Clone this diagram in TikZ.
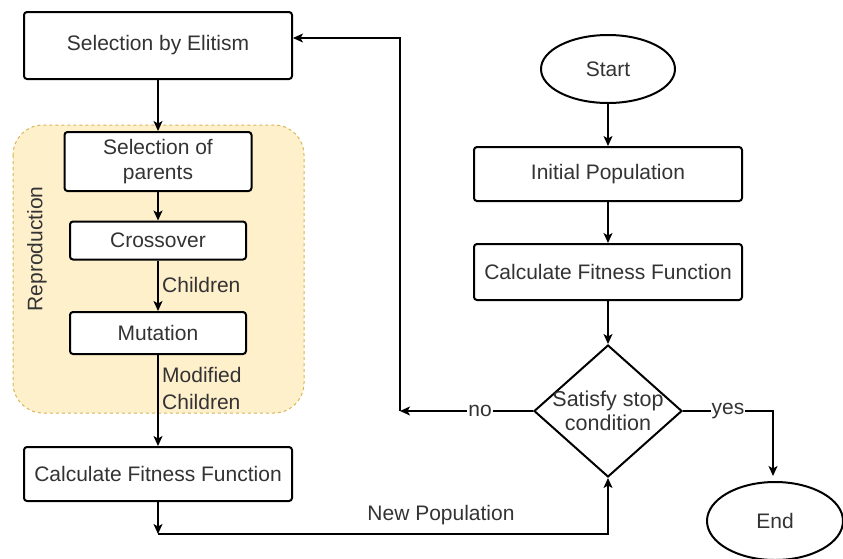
\documentclass[tikz,border=0pt]{standalone}
\usepackage{fontspec}
\setmainfont{Liberation Sans}
\usetikzlibrary{shapes.geometric,arrows.meta}
\definecolor{txt}{HTML}{333333}
\definecolor{groupfill}{HTML}{FFF0CC}
\definecolor{groupline}{HTML}{D6B656}
\begin{document}
\begin{tikzpicture}[x=1pt,y=-1pt,
  font=\fontsize{21}{25}\selectfont, text=txt,
  box/.style={draw=black, line width=2pt, rounded corners=3pt, fill=white,
    inner sep=0pt, align=center},
  term/.style={draw=black, line width=2pt, ellipse, fill=white, inner sep=0pt},
  conn/.style={line width=1.3pt, draw=black},
  arr/.style={conn, -{Stealth[length=10pt,width=9pt,inset=2.5pt]}},
  lbl/.style={inner sep=1pt, fill=white},
  plain/.style={inner sep=0pt, align=left}]
\useasboundingbox (0,0) rectangle (843,558);

% reproduction group
\draw[fill=groupfill, draw=groupline, dashed, line width=1pt, rounded corners=30pt]
  (13,125) rectangle (304,413);
\node[rotate=90] (repro) at (37,249) {Reproduction};

% left column
\node[box, minimum width=268pt, minimum height=67pt] (elit) at (158,45.5) {Selection by Elitism};
\node[box, minimum width=187pt, minimum height=59pt] (parents) at (158,161.5) {Selection of\\parents};
\node[box, minimum width=176pt, minimum height=38pt] (cross) at (158,240.5) {Crossover};
\node[box, minimum width=176pt, minimum height=42pt] (mut) at (158,333) {Mutation};
\node[box, minimum width=268pt, minimum height=54pt] (calcL) at (158,474) {Calculate Fitness Function};

% right column
\node[term, minimum width=134pt, minimum height=68pt] (start) at (608,69) {Start};
\node[box, minimum width=268pt, minimum height=54pt] (init) at (608,174) {Initial Population};
\node[box, minimum width=268pt, minimum height=56pt] (calcR) at (608,272) {Calculate Fitness Function};
\node[diamond, draw=black, line width=2pt, fill=white, inner sep=0pt,
  minimum width=148pt, minimum height=132pt] (dec) at (608,411) {};
\node[align=center, inner sep=0pt, font=\fontsize{21.5}{24}\selectfont] (dectext) at (dec.center) {Satisfy stop\\condition};
\node[term, minimum width=136pt, minimum height=78pt] (endn) at (775,521) {End};

% free corner points of the routed connectors
\coordinate (np) at (158,534);
\coordinate (nopt) at (400,411);
\coordinate (fb) at (400,38);
\coordinate (yespt) at (773,411);

% left column flow
\draw[arr] (elit) -- (parents);
\draw[arr] (parents) -- (cross);
\draw[arr] (cross) -- (mut);
\node[plain, anchor=west] (children) at (162,285) {Children};
\draw[arr] (mut) -- (calcL);
\node[plain, anchor=north west, font=\fontsize{21}{27}\selectfont] (modch) at (162,367) {Modified\\Children};
\draw[arr] (calcL) -- (np);
\draw[arr] (np) -- (np -| dec.south) -- (dec.south);
\node[plain] (newpop) at (441,515) {New Population};

% right column flow
\draw[arr] (start) -- (init);
\draw[arr] (init) -- (calcR);
\draw[arr] (calcR) -- (dec.north);
\draw[arr] (dec.west) -- (nopt);
\node[lbl] (no) at (480,411) {no};
\draw[arr] (nopt) -- (fb) -- (fb -| elit.east);
\draw[arr, shorten >=5pt] (dec.east) -- (yespt) -- (endn.north -| yespt);
\node[lbl] (yes) at (728,411) {yes};
\end{tikzpicture}
\end{document}
